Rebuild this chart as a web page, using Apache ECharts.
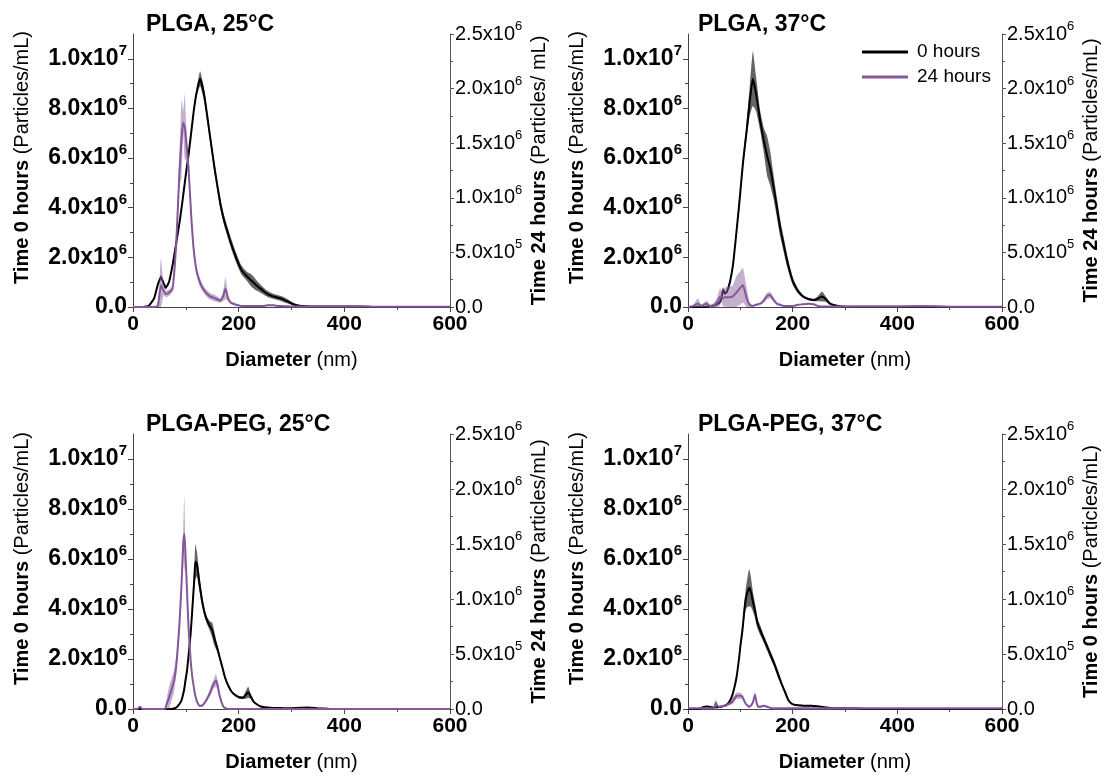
<!DOCTYPE html>
<html><head><meta charset="utf-8">
<script src="https://cdn.jsdelivr.net/npm/echarts@6/dist/echarts.min.js"></script>
<style>html,body{margin:0;padding:0;background:#fff}#c{width:1108px;height:776px}</style>
</head><body><div id="c"></div><script>
// ---- DATA (values in millions of particles/mL) ----
const titles = ['PLGA, 25°C', 'PLGA, 37°C', 'PLGA-PEG, 25°C', 'PLGA-PEG, 37°C'];
const leftNames = [['Time 0 hours','(Particles/mL)'],['Time 0 hours','(Particles/mL)'],['Time 0 hours','(Particles/mL)'],['Time 0 hours','(Particles/mL)']];
const rightNames = [['Time 24 hours','(Particles/ mL)'],['Time 24 hours','(Particles/mL)'],['Time 24 hours','(Particles/mL)'],['Time 0 hours','(Particles/mL)']];
const legendNames = ['0 hours', '24 hours'];
const xTicks = [0, 200, 400, 600];
const leftTicks = [0, 2, 4, 6, 8, 10];
const rightTicks = [0, 0.5, 1, 1.5, 2, 2.5];

// Panel 1: PLGA 25C
const d1 = [0,20,30,40,47,53,58,62,68,75,82,88,92,95,98,101,105,110,115,120,127,135,145,155,165,170,175,180,185,195,205,215,225,235,245,255,265,275,285,295,305,315,330,360,400,430,450,500,600];
const m0_1 = [0,0,0.05,0.35,0.9, 1.2,0.95,0.78,1.0,1.7, 2.6,3.4,4.0,4.5,5.0, 5.5,6.1,7.0,7.9,8.6, 9.2,8.5,7.0,5.5,4.2, 3.7,3.3,2.95,2.6,2.0, 1.5,1.25,1.05,0.85,0.68, 0.52,0.43,0.37,0.3,0.2, 0.1,0.05,0.03,0.02,0.02, 0.02,0.01,0,0];
const e0_1 = [0,0,0.02,0.05,0.08, 0.1,0.08,0.06,0.06,0.06, 0.06,0.06,0.06,0.06,0.06, 0.06,0.06,0.08,0.1,0.15, 0.3,0.25,0.2,0.2,0.2, 0.2,0.2,0.2,0.2,0.2, 0.18,0.18,0.25,0.2,0.15, 0.12,0.1,0.1,0.1,0.08, 0.05,0.03,0.02,0.02,0.02, 0.02,0.01,0,0];
const m24_1 = [0,0,0,0,0.01, 0.2,0.15,0.12,0.13,0.17, 0.6,1.25,1.55,1.69,1.65, 1.5,1.28,0.85,0.52,0.34, 0.22,0.15,0.1,0.08,0.06, 0.09,0.17,0.08,0.04,0.02, 0.01,0.01,0.01,0.01,0.01, 0.015,0.015,0.01,0.008,0.006, 0.005,0.005,0.005,0.005,0.005, 0.005,0.003,0.002,0.002];
const e24_1 = [0,0,0,0,0.01, 0.25,0.04,0.03,0.03,0.03, 0.06,0.15,0.35,0.1,0.3, 0.15,0.1,0.05,0.05,0.04, 0.04,0.03,0.03,0.03,0.02, 0.04,0.1,0.03,0.01,0.01, 0.005,0.005,0.005,0.005,0.005, 0.005,0.005,0.005,0.003,0.003, 0.002,0.002,0.002,0.002,0.002, 0.002,0.002,0.001,0.001];

// Panel 2: PLGA 37C
const d2 = [0,10,19,25,30,36,42,50,55,61,64,67,70,74,80,86,92,99,105,112,118,124,130,138,145,151,157,163,170,176,183,189,195,201,210,220,230,240,248,256,264,271,280,290,300,350,400,450,480,500,600];
const m0_2 = [0,0,0,0,0, 0.01,0.03,0.06,0.1,0.2, 0.35,0.7,0.55,0.6,1.0, 1.7,2.9,4.4,5.8,7.1, 8.3,9.2,8.6,7.5,6.7, 6.1,5.6,4.9,4.0,3.2, 2.5,1.9,1.4,1.0,0.65, 0.42,0.32,0.28,0.33,0.42, 0.3,0.14,0.07,0.03,0.02, 0.01,0.01,0.01,0.01,0, 0];
const e0_2 = [0,0,0,0,0, 0.01,0.02,0.03,0.03,0.04, 0.06,0.1,0.06,0.06,0.08, 0.1,0.12,0.15,0.2,0.3, 0.6,1.1,0.7,0.4,0.5, 0.8,0.7,0.5,0.4,0.35, 0.3,0.25,0.2,0.15,0.1, 0.06,0.05,0.05,0.1,0.2, 0.1,0.05,0.03,0.02,0.01, 0.01,0.01,0.01,0.01,0, 0];
const m24_2 = [0,0.01,0.03,0.01,0.02, 0.03,0.01,0.02,0.04,0.09, 0.1,0.08,0.09,0.09,0.09, 0.1,0.13,0.17,0.2,0.08, 0.02,0.01,0.02,0.03,0.06, 0.1,0.11,0.07,0.03,0.02, 0.01,0.01,0.01,0.01,0.02, 0.025,0.03,0.025,0.01,0.005, 0.005,0.005,0.005,0.005,0.005, 0.005,0.005,0.01,0.005,0.003, 0.003];
const e24_2 = [0,0.01,0.05,0.01,0.02, 0.03,0.01,0.02,0.04,0.08, 0.05,0.1,0.08,0.1,0.1, 0.1,0.15,0.15,0.16,0.1, 0.02,0.01,0.01,0.01,0.02, 0.03,0.03,0.02,0.01,0.01, 0.005,0.005,0.005,0.005,0.005, 0.005,0.005,0.005,0.005,0.003, 0.003,0.003,0.003,0.003,0.003, 0.003,0.003,0.003,0.003,0.002, 0.002];

// Panel 3: PLGA-PEG 25C
const d3 = [0,8,13,18,30,50,60,64,68,73,78,83,88,92,95,97,99,102,105,109,112,116,118,121,126,131,136,141,146,150,153,157,160,164,170,174,180,187,194,201,208,213,218,223,228,235,242,249,260,275,290,310,331,350,370,400,500,600];
const m0_3 = [0,0,0,0,0, 0,0,0,0,0, 0.02,0.08,0.2,0.35,0.6, 0.8,1.1,1.5,2.1,3.0, 3.9,5.2,5.9,5.8,5.0, 4.3,3.8,3.5,3.3,3.15, 2.9,2.6,2.4,2.07,1.6, 1.27,0.95,0.68,0.55,0.47, 0.45,0.55,0.67,0.5,0.3, 0.18,0.1,0.07,0.05,0.04, 0.03,0.04,0.06,0.03,0.01, 0,0,0];
const e0_3 = [0,0,0,0,0, 0,0,0,0,0, 0.01,0.02,0.03,0.04,0.05, 0.05,0.06,0.08,0.1,0.12, 0.2,0.4,0.7,0.5,0.3, 0.2,0.15,0.15,0.2,0.3, 0.3,0.2,0.15,0.1,0.08, 0.06,0.05,0.05,0.05,0.05, 0.05,0.15,0.22,0.1,0.05, 0.03,0.02,0.02,0.01,0.01, 0.01,0.01,0.02,0.01,0, 0,0,0];
const m24_3 = [0,0,0.02,0,0, 0,0,0.05,0.1,0.18, 0.26,0.45,0.78,1.15,1.5, 1.59,1.45,1.1,0.75,0.45, 0.3,0.17,0.12,0.07,0.03, 0.03,0.06,0.1,0.15,0.2, 0.23,0.26,0.22,0.12,0.03, 0.01,0,0,0,0, 0,0,0,0,0, 0,0,0,0,0, 0,0,0,0,0, 0,0,0];
const e24_3 = [0,0,0.01,0,0, 0,0,0.05,0.1,0.1, 0.1,0.08,0.06,0.05,0.1, 0.35,0.1,0.05,0.04,0.03, 0.02,0.02,0.02,0.01,0.01, 0.01,0.01,0.02,0.03,0.04, 0.04,0.06,0.04,0.02,0.01, 0,0,0,0,0, 0,0,0,0,0, 0,0,0,0,0, 0,0,0,0,0, 0,0,0];

// Panel 4: PLGA-PEG 37C
const d4 = [0,20,25,30,35,40,45,50,53,56,60,65,70,76,83,88,93,98,100,104,107,110,114,117,120,124,128,131,134,138,145,151,158,165,172,179,186,192,199,206,215,226,236,247,260,274,290,315,335,400,500,600];
const m0_4 = [0,0,0.03,0.08,0.1, 0.09,0.07,0.06,0.07,0.07, 0.08,0.1,0.13,0.2,0.45, 0.8,1.3,2.1,2.5,3.15, 3.8,4.35,4.7,4.85,4.7, 4.3,3.95,3.6,3.35,3.15, 2.8,2.5,2.15,1.8,1.4, 1.0,0.65,0.35,0.2,0.16, 0.14,0.13,0.13,0.11,0.07, 0.04,0.03,0.03,0.01,0, 0,0];
const e0_4 = [0,0,0.01,0.02,0.02, 0.02,0.02,0.02,0.02,0.02, 0.02,0.02,0.03,0.04,0.05, 0.06,0.08,0.1,0.15,0.2, 0.3,0.4,0.6,0.75,0.6, 0.4,0.3,0.25,0.2,0.2, 0.15,0.15,0.15,0.15,0.15, 0.1,0.08,0.06,0.04,0.03, 0.03,0.03,0.03,0.03,0.02, 0.01,0.01,0.01,0.01,0, 0,0];
const m24_4 = [0.006,0.006,0.006,0.006,0.006, 0.006,0.006,0.01,0.06,0.03, 0.02,0.025,0.03,0.04,0.06, 0.09,0.12,0.12,0.12,0.11, 0.08,0.05,0.03,0.02,0.03, 0.06,0.13,0.06,0.02,0.02, 0.03,0.02,0.01,0.006,0.006, 0.006,0.006,0.006,0.006,0.006, 0.006,0.006,0.006,0.006,0.006, 0.006,0.006,0.006,0.006,0.006, 0.006,0.006];
const e24_4 = [0,0,0,0,0, 0,0,0.005,0.03,0.01, 0.01,0.01,0.01,0.01,0.02, 0.03,0.03,0.03,0.03,0.02, 0.02,0.01,0.01,0.01,0.01, 0.02,0.03,0.02,0.01,0.01, 0.01,0.01,0,0,0, 0,0,0,0,0, 0,0,0,0,0, 0,0,0,0,0, 0,0];

// ---- STYLE / LAYOUT ----
const F = '"Liberation Sans", Arial, sans-serif';
const AX = '#444';
const BLACK = '#000000', PURPLE = '#85579a';
const BLACK_BAND = 'rgba(40,40,40,0.72)', PURPLE_BAND = 'rgba(140,95,160,0.5)';
const grids = [
  {left:133, top:34, width:317, height:273},
  {left:688, top:34, width:314, height:273},
  {left:133, top:434, width:317, height:275},
  {left:688, top:434, width:314, height:275}
];
const titlePos = [[141,7],[693,7],[141,407],[693,407]];
const panels = [
  {d:d1,m0:m0_1,e0:e0_1,m24:m24_1,e24:e24_1},
  {d:d2,m0:m0_2,e0:e0_2,m24:m24_2,e24:e24_2},
  {d:d3,m0:m0_3,e0:e0_3,m24:m24_3,e24:e24_3},
  {d:d4,m0:m0_4,e0:e0_4,m24:m24_4,e24:e24_4}
];

function sci(v){
  if (Math.abs(v) < 1e-12) return '{m|0.0}';
  const x = v * 1e6;
  const e = Math.floor(Math.log10(x) + 1e-9);
  const m = (x / Math.pow(10, e)).toFixed(1);
  return '{m|' + m + 'x10}{s|' + e + '}';
}
const nameRich = {
  b:{fontFamily:F, fontSize:20, fontWeight:'bold', color:'#000'},
  r:{fontFamily:F, fontSize:20, fontWeight:'normal', color:'#000'}
};
const leftRich = {
  m:{fontFamily:F, fontSize:23, fontWeight:'bold', color:'#000', lineHeight:31},
  s:{fontFamily:F, fontSize:15, fontWeight:'bold', color:'#000', verticalAlign:'top', lineHeight:18}
};
const rightRich = {
  m:{fontFamily:F, fontSize:20, fontWeight:'normal', color:'#000', lineHeight:28},
  s:{fontFamily:F, fontSize:13, fontWeight:'normal', color:'#000', verticalAlign:'top', lineHeight:16}
};

function bandRenderer(d, lo, hi, color){
  return function(params, api){
    if (params.dataIndex !== 0) return null;
    const pts = [];
    for (let j = 0; j < d.length; j++) pts.push(api.coord([d[j], hi[j]]));
    for (let j = d.length - 1; j >= 0; j--) pts.push(api.coord([d[j], lo[j]]));
    return {type:'polygon', shape:{points:pts, smooth:0.15}, style:{fill:color}, silent:true};
  };
}

const xAxes = [], yAxes = [], series = [], titleArr = [];
const SM = 0.15;
panels.forEach((p, i) => {
  titleArr.push({text: titles[i], left: titlePos[i][0], top: titlePos[i][1],
    textStyle:{fontFamily:F, fontSize:23, fontWeight:'bold', color:'#000', lineHeight:26}});
  xAxes.push({type:'value', gridIndex:i, min:xTicks[0], max:xTicks[xTicks.length-1], interval:xTicks[1]-xTicks[0],
    axisLine:{show:true, onZero:false, lineStyle:{color:AX, width:1}},
    axisTick:{show:true, length:5, lineStyle:{color:AX}},
    minorTick:{show:true, splitNumber:2, length:3, lineStyle:{color:AX}},
    splitLine:{show:false},
    axisLabel:{margin:7, fontFamily:F, fontSize:21, fontWeight:'bold', color:'#000'},
    name:'{b|Diameter} {r|(nm)}', nameLocation:'middle', nameGap:43,
    nameTextStyle:{fontFamily:F, fontSize:20, rich:nameRich}});
  yAxes.push({type:'value', gridIndex:i, position:'left', min:leftTicks[0], max:11, interval:leftTicks[1]-leftTicks[0],
    axisLine:{show:true, onZero:false, lineStyle:{color:AX, width:1}},
    axisTick:{show:true, length:5, lineStyle:{color:AX}, customValues:leftTicks},
    minorTick:{show:true, splitNumber:2, length:3, lineStyle:{color:AX}},
    splitLine:{show:false},
    axisLabel:{margin:6, formatter: v => (v > 10.5 ? '' : sci(v)), rich:leftRich},
    name:'{b|'+leftNames[i][0]+'} {r|'+leftNames[i][1]+'}', nameLocation:'middle', nameRotate:90, nameGap:101,
    nameTextStyle:{fontFamily:F, fontSize:20, rich:nameRich, padding:[0,0,0,26]}});
  yAxes.push({type:'value', gridIndex:i, position:'right', min:rightTicks[0], max:rightTicks[rightTicks.length-1], interval:rightTicks[1]-rightTicks[0],
    axisLine:{show:true, onZero:false, lineStyle:{color:'#555', width:1}},
    axisTick:{show:true, length:4, lineStyle:{color:'#555'}},
    minorTick:{show:true, splitNumber:2, length:3, lineStyle:{color:'#555'}},
    splitLine:{show:false},
    axisLabel:{margin:5, formatter: v => sci(v), rich:rightRich},
    name:'{b|'+rightNames[i][0]+'} {r|'+rightNames[i][1]+'}', nameLocation:'middle', nameRotate:90, nameGap:79,
    nameTextStyle:{fontFamily:F, fontSize:20, rich:nameRich}});

  const groups = [
    {m:p.m0, e:p.e0, y:2*i, color:BLACK, band:BLACK_BAND, name:legendNames[0], z:2},
    {m:p.m24, e:p.e24, y:2*i+1, color:PURPLE, band:PURPLE_BAND, name:legendNames[1], z:4}
  ];
  groups.forEach((g) => {
    const lo = p.d.map((x, j) => Math.max(0, g.m[j] - g.e[j]));
    const hi = p.d.map((x, j) => g.m[j] + g.e[j]);
    const mean = p.d.map((x, j) => [x, g.m[j]]);
    series.push({type:'custom', name:'band ' + g.name + ' ' + i, coordinateSystem:'cartesian2d',
      xAxisIndex:i, yAxisIndex:g.y, data:mean, encode:{x:0, y:1}, clip:true, silent:true, z:g.z,
      renderItem: bandRenderer(p.d, lo, hi, g.band), animation:false});
    series.push({type:'line', name:g.name, xAxisIndex:i, yAxisIndex:g.y, data:mean, symbol:'none',
      smooth:SM, lineStyle:{color:g.color, width:2}, itemStyle:{color:g.color}, z:g.z+1, animation:false});
  });
});

const chart = echarts.init(document.getElementById('c'), null, {renderer:'canvas'});
chart.setOption({
  backgroundColor:'#fff',
  animation:false,
  title: titleArr,
  grid: grids,
  xAxis: xAxes,
  yAxis: yAxes,
  legend:{data:legendNames, orient:'vertical', left:857, top:37, icon:'rect', itemWidth:46, itemHeight:3, itemGap:5,
    textStyle:{fontFamily:F, fontSize:19, color:'#000', lineHeight:20, padding:[0,0,0,4]}},
  series: series
});
</script></body></html>
